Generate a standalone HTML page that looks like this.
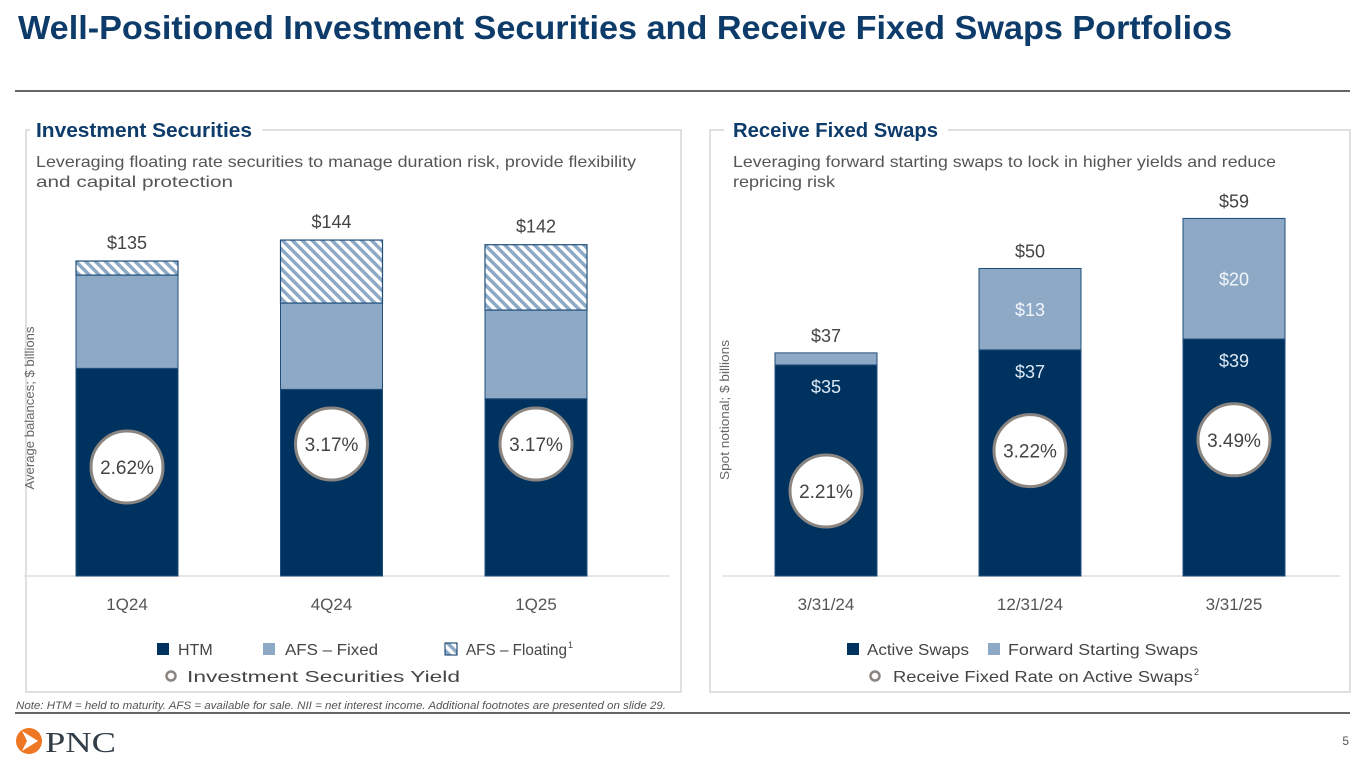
<!DOCTYPE html>
<html><head><meta charset="utf-8">
<style>
html,body{margin:0;padding:0;background:#fff;}
svg{display:block;font-family:"Liberation Sans",sans-serif;}
</style></head>
<body>
<svg id="page" width="1365" height="768" viewBox="0 0 1365 768" xmlns="http://www.w3.org/2000/svg">
<defs>
<pattern id="hatch" patternUnits="userSpaceOnUse" width="7" height="7" patternTransform="rotate(-45)">
<rect width="7" height="7" fill="#ffffff"/>
<rect width="3.5" height="7" fill="#8ea9c6"/>
</pattern>
</defs>
<text x="18" y="39" font-size="33" font-weight="bold" fill="#0d3b6a" textLength="1214" lengthAdjust="spacingAndGlyphs">Well-Positioned Investment Securities and Receive Fixed Swaps Portfolios</text>
<line x1="15" y1="91" x2="1350" y2="91" stroke="#666" stroke-width="2"/>

<!-- Left panel -->
<g>
<path d="M30 130 H26 V692 H681 V130 H262" fill="none" stroke="#d6d6d6" stroke-width="1.5"/>
<text x="36" y="137" font-size="20" font-weight="bold" fill="#0d3b6a" textLength="216" lengthAdjust="spacingAndGlyphs">Investment Securities</text>
<text x="36" y="167" font-size="16" fill="#555" textLength="600" lengthAdjust="spacingAndGlyphs">Leveraging floating rate securities to manage duration risk, provide flexibility</text>
<text x="36" y="187" font-size="16" fill="#555" textLength="197" lengthAdjust="spacingAndGlyphs">and capital protection</text>
<line x1="24" y1="576" x2="670" y2="576" stroke="#ddd" stroke-width="1.5"/>
<text transform="translate(34,408) rotate(-90)" text-anchor="middle" font-size="13" fill="#666" textLength="163" lengthAdjust="spacingAndGlyphs">Average balances; $ billions</text>
<g id="leftChart"></g>
<g>
<rect x="157" y="643" width="12" height="12" fill="#00325f"/>
<text x="178" y="655" font-size="16" fill="#444">HTM</text>
<rect x="263" y="643" width="12" height="12" fill="#8ea9c6"/>
<text x="285" y="655" font-size="16" fill="#444" textLength="93" lengthAdjust="spacingAndGlyphs">AFS – Fixed</text>
<rect x="445" y="643" width="12" height="12" fill="url(#hatch)" stroke="#00325f"/>
<text x="466" y="655" font-size="16" fill="#444" textLength="101" lengthAdjust="spacingAndGlyphs">AFS – Floating</text>
<text x="568" y="648" font-size="9" fill="#444">1</text>
<circle cx="171" cy="676" r="4.5" fill="none" stroke="#8a8580" stroke-width="2.5"/>
<text x="187" y="682" font-size="16" fill="#444" textLength="273" lengthAdjust="spacingAndGlyphs">Investment Securities Yield</text>
</g>
</g>

<!-- Right panel -->
<g>
<path d="M724 130 H710 V692 H1350 V130 H948" fill="none" stroke="#d6d6d6" stroke-width="1.5"/>
<text x="733" y="137" font-size="20" font-weight="bold" fill="#0d3b6a" textLength="205" lengthAdjust="spacingAndGlyphs">Receive Fixed Swaps</text>
<text x="733" y="167" font-size="16" fill="#555" textLength="543" lengthAdjust="spacingAndGlyphs">Leveraging forward starting swaps to lock in higher yields and reduce</text>
<text x="733" y="187" font-size="16" fill="#555" textLength="102" lengthAdjust="spacingAndGlyphs">repricing risk</text>
<line x1="722" y1="576" x2="1340" y2="576" stroke="#ddd" stroke-width="1.5"/>
<text transform="translate(729,410) rotate(-90)" text-anchor="middle" font-size="13" fill="#666" textLength="140" lengthAdjust="spacingAndGlyphs">Spot notional; $ billions</text>
<g id="rightChart"></g>
<g>
<rect x="847" y="643" width="12" height="12" fill="#00325f"/>
<text x="867" y="655" font-size="16" fill="#444" textLength="102" lengthAdjust="spacingAndGlyphs">Active Swaps</text>
<rect x="988" y="643" width="12" height="12" fill="#8ea9c6"/>
<text x="1008" y="655" font-size="16" fill="#444" textLength="190" lengthAdjust="spacingAndGlyphs">Forward Starting Swaps</text>
<circle cx="875" cy="676" r="4.5" fill="none" stroke="#8a8580" stroke-width="2.5"/>
<text x="893" y="682" font-size="16" fill="#444" textLength="300" lengthAdjust="spacingAndGlyphs">Receive Fixed Rate on Active Swaps</text>
<text x="1194" y="675" font-size="9" fill="#444">2</text>
</g>
</g>

<text x="16" y="709" font-size="11" font-style="italic" fill="#555" textLength="650" lengthAdjust="spacingAndGlyphs">Note: HTM = held to maturity. AFS = available for sale. NII = net interest income. Additional footnotes are presented on slide 29.</text>
<line x1="15" y1="713" x2="1350" y2="713" stroke="#333" stroke-width="1.5"/>
<g>
<circle cx="29" cy="741" r="13" fill="#ef7622"/>
<path d="M22 731 L38 741 L22 751 L27 741 Z" fill="#fff"/>
<text x="45" y="752" font-family="'Liberation Serif',serif" font-size="29" fill="#333d47" textLength="71" lengthAdjust="spacingAndGlyphs">PNC</text>
</g>
<text x="1349" y="745" font-size="12" fill="#555" text-anchor="end">5</text>
</svg>
<script>
// Left chart data
const leftCategories = ["1Q24", "4Q24", "1Q25"];
const htmValues = [89, 80, 76];
const afsFixedValues = [40, 37, 38];
const afsFloatingValues = [6, 27, 28];
const leftTotals = ["$135", "$144", "$142"];
const securitiesYield = [2.62, 3.17, 3.17];
// Right chart data
const rightCategories = ["3/31/24", "12/31/24", "3/31/25"];
const activeSwaps = [35, 37.5, 39.3];
const forwardSwaps = [2, 13.5, 20];
const rightTotals = ["$37", "$50", "$59"];
const activeLabels = ["$35", "$37", "$39"];
const forwardLabels = ["", "$13", "$20"];
const receiveFixedRate = [2.21, 3.22, 3.49];

const NS = "http://www.w3.org/2000/svg";
function mk(tag, attrs, parent){const e=document.createElementNS(NS,tag);for(const k in attrs)e.setAttribute(k,attrs[k]);parent.appendChild(e);return e;}

const baseY = 576, barW = 102;
const lxs = i => 76 + i * 204.5;
const lys = v => baseY - v * 2.333;
const lyieldY = r => 467 - (r - 2.62) * 41.8;
const rxs = i => 775 + i * 204;
const rys = v => baseY - v * 6.03;
const ryieldY = r => 491 - (r - 2.21) * 40;

function yieldCircle(g, cx, cy, label){
  const c = mk("circle",{cx:cx,cy:cy,r:36,fill:"#fff",stroke:"#8a8580","stroke-width":3},g);
  
  
  const t = mk("text",{x:cx,y:cy+7,"text-anchor":"middle","font-size":19,fill:"#444"},g);
  
  
  t.textContent = label;
}

const lg = document.getElementById("leftChart");
leftCategories.forEach((cat,i)=>{
  const x = lxs(i);
  const h0 = htmValues[i], h1 = h0 + afsFixedValues[i], h2 = h1 + afsFloatingValues[i];
  const r1 = mk("rect",{x:x,y:lys(h0),width:barW,height:lys(0)-lys(h0),fill:"#00325f",stroke:"#1f4e7a","stroke-width":1},lg);
  
  
  const r2 = mk("rect",{x:x,y:lys(h1),width:barW,height:lys(h0)-lys(h1),fill:"#8ea9c6",stroke:"#1f4e7a","stroke-width":1},lg);
  
  
  const r3 = mk("rect",{x:x,y:lys(h2),width:barW,height:lys(h1)-lys(h2),fill:"url(#hatch)",stroke:"#1f4e7a","stroke-width":1.2},lg);
  
  
  const tl = mk("text",{x:x+barW/2,y:lys(h2)-12,"text-anchor":"middle","font-size":18,fill:"#444"},lg);
  
  
  tl.textContent = leftTotals[i];
  const xl = mk("text",{x:x+barW/2,y:610,"text-anchor":"middle","font-size":17,fill:"#555"},lg);
  
  
  xl.textContent = cat;
  yieldCircle(lg, x+barW/2, lyieldY(securitiesYield[i]), securitiesYield[i].toFixed(2)+"%");
});

const rg = document.getElementById("rightChart");
rightCategories.forEach((cat,i)=>{
  const x = rxs(i);
  const a = activeSwaps[i], t = a + forwardSwaps[i];
  const r1 = mk("rect",{x:x,y:rys(a),width:barW,height:rys(0)-rys(a),fill:"#00325f",stroke:"#1f4e7a","stroke-width":1},rg);
  
  
  const r2 = mk("rect",{x:x,y:rys(t),width:barW,height:rys(a)-rys(t),fill:"#8ea9c6",stroke:"#1f4e7a","stroke-width":1},rg);
  
  
  const tl = mk("text",{x:x+barW/2,y:rys(t)-11,"text-anchor":"middle","font-size":18,fill:"#444"},rg);
  
  
  tl.textContent = rightTotals[i];
  const al = mk("text",{x:x+barW/2,y:rys(a)+28,"text-anchor":"middle","font-size":18,fill:"#dde8f4"},rg);
  
  
  al.textContent = activeLabels[i];
  if(forwardLabels[i]){
    const fl = mk("text",{x:x+barW/2,y:(rys(a)+rys(t))/2+7,"text-anchor":"middle","font-size":18,fill:"#f2f6fa"},rg);
    
    
    fl.textContent = forwardLabels[i];
  }
  const xl = mk("text",{x:x+barW/2,y:610,"text-anchor":"middle","font-size":17,fill:"#555"},rg);
  
  
  xl.textContent = cat;
  yieldCircle(rg, x+barW/2, ryieldY(receiveFixedRate[i]), receiveFixedRate[i].toFixed(2)+"%");
});
</script>
</body></html>
